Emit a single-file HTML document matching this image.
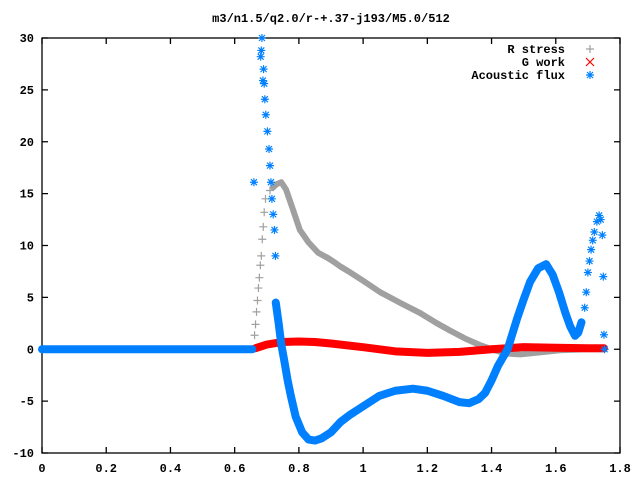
<!DOCTYPE html>
<html><head><meta charset="utf-8"><style>
body{margin:0;background:#fff}
svg text{font-family:"Liberation Mono",monospace;font-weight:bold;font-size:12px;fill:#000}
</style></head><body>
<svg width="640" height="480" viewBox="0 0 640 480" id="c">
<rect width="640" height="480" fill="#fff"/>
<text x="331" y="22" text-anchor="middle">m3/n1.5/q2.0/r-+.37-j193/M5.0/512</text>
<g id="axes"></g>
<g id="plot"></g>
<g id="legend"></g>
</svg>
<script>
const xTicks=[0,0.2,0.4,0.6,0.8,1,1.2,1.4,1.6,1.8];
const xTickLabels=["0","0.2","0.4","0.6","0.8","1","1.2","1.4","1.6","1.8"];
const yTicks=[-10,-5,0,5,10,15,20,25,30];
const yTickLabels=["-10","-5","0","5","10","15","20","25","30"];
const rBaseX=[0,0.66];
const rBaseY=[0,0];
const rRiseX=[0.662,0.665,0.668,0.671,0.674,0.677,0.68,0.683,0.686,0.689,0.692,0.696,0.71];
const rRiseY=[1.35,2.4,3.6,4.7,5.9,6.9,8.1,9.0,10.6,11.8,13.2,14.5,15.3];
const rStressX=[0.72,0.73,0.745,0.76,0.78,0.803,0.83,0.86,0.89,0.91,0.928,0.96,1.0,1.053,1.12,1.177,1.23,1.271,1.32,1.364,1.4,1.442,1.489,1.55,1.613,1.7,1.75];
const rStressY=[15.6,15.9,16.1,15.4,13.6,11.5,10.3,9.3,8.8,8.4,8.0,7.4,6.6,5.5,4.4,3.5,2.5,1.8,1.0,0.4,0.0,-0.4,-0.5,-0.3,-0.1,0,0];
const gWorkX=[0.665,0.7,0.75,0.8,0.85,0.9,1.0,1.1,1.2,1.3,1.4,1.5,1.6,1.7,1.75];
const gWorkY=[0.1,0.45,0.7,0.75,0.7,0.55,0.2,-0.2,-0.35,-0.25,0,0.2,0.15,0.1,0.1];
const fluxBaseX=[0,0.655];
const fluxBaseY=[0,0];
const fluxCurveX=[0.728,0.737,0.745,0.755,0.765,0.775,0.79,0.81,0.83,0.85,0.87,0.9,0.93,0.96,1.0,1.05,1.1,1.155,1.2,1.25,1.3,1.33,1.36,1.38,1.4,1.42,1.45,1.48,1.5,1.52,1.545,1.57,1.59,1.61,1.63,1.645,1.66,1.67,1.68];
const fluxCurveY=[4.5,2.5,0.5,-1.2,-3,-4.5,-6.5,-8,-8.7,-8.8,-8.6,-8,-7,-6.3,-5.5,-4.5,-4,-3.8,-4,-4.5,-5.1,-5.2,-4.8,-4.2,-3,-1.6,0,3,4.8,6.5,7.8,8.2,7.2,5.5,3.5,2.2,1.3,1.6,2.6];
const fluxSpikeX=[0.66,0.685,0.683,0.681,0.69,0.688,0.692,0.694,0.697,0.702,0.707,0.71,0.713,0.716,0.72,0.724,0.727,1.69,1.695,1.70,1.705,1.71,1.715,1.72,1.728,1.735,1.74,1.745,1.748,1.75,1.752,1.752];
const fluxSpikeY=[16.1,30,28.8,28.2,27,25.9,25.6,24.1,22.6,21,19.3,17.7,16.1,14.5,13,11.5,9.0,4.0,5.5,7.4,8.5,9.6,10.5,11.3,12.3,12.9,12.5,11,7,1.4,0];
const L=42,R=620,T=38,B=453,xMin=0,xMax=1.8,yMin=-10,yMax=30;
const sx=v=>L+(v-xMin)/(xMax-xMin)*(R-L);
const sy=v=>B-(v-yMin)/(yMax-yMin)*(B-T);
const NS="http://www.w3.org/2000/svg";
function mk(tag,at,parent){const e=document.createElementNS(NS,tag);for(const k in at)e.setAttribute(k,at[k]);parent.appendChild(e);return e;}
const axes=document.getElementById('axes'),plot=document.getElementById('plot'),leg=document.getElementById('legend');
let f=mk('rect',{x:L,y:T,width:R-L,height:B-T,fill:'none',stroke:'#000','stroke-width':1.3},axes);


xTicks.forEach((v,i)=>{const x=sx(v);
 mk('path',{d:`M${x},${B}v-6M${x},${T}v6`,stroke:'#000','stroke-width':1.3},axes);
 const t=mk('text',{x:x,y:B+19,'text-anchor':'middle'},axes);t.textContent=xTickLabels[i];
 
 });
yTicks.forEach((v,i)=>{const y=sy(v);
 mk('path',{d:`M${L},${y}h6M${R},${y}h-6`,stroke:'#000','stroke-width':1.3},axes);
 const t=mk('text',{x:34,y:y+4,'text-anchor':'end'},axes);t.textContent=yTickLabels[i];
 
 });
function plus(x,y,c,g){mk('path',{d:`M${x-4},${y}h8M${x},${y-4}v8`,stroke:c,'stroke-width':1.2},g);}
function cross(x,y,c,g){mk('path',{d:`M${x-4},${y-4}l8,8M${x-4},${y+4}l8,-8`,stroke:c,'stroke-width':1.2},g);}
function star(x,y,c,g){mk('path',{d:`M${x-4},${y}h8M${x},${y-4}v8M${x-3},${y-3}l6,6M${x-3},${y+3}l6,-6`,stroke:c,'stroke-width':1.2},g);}
function line(X,Y,c,w,g){mk('polyline',{points:X.map((v,i)=>sx(v)+','+sy(Y[i])).join(' '),fill:'none',stroke:c,'stroke-width':w,'stroke-linejoin':'round','stroke-linecap':'round'},g);}
// R stress
const gR=mk('g',{},plot);


line(rBaseX,rBaseY,'#a0a0a0',6,gR);
line(rStressX,rStressY,'#a0a0a0',6,gR);
rRiseX.forEach((v,i)=>plus(sx(v),sy(rRiseY[i]),'#a0a0a0',gR));
// G work
const gG=mk('g',{},plot);


line(gWorkX,gWorkY,'#ff0000',8,gG);
// Flux
const gF=mk('g',{},plot);


line(fluxBaseX,fluxBaseY,'#0080ff',8,gF);
line(fluxCurveX,fluxCurveY,'#0080ff',8,gF);
fluxSpikeX.forEach((v,i)=>star(sx(v),sy(fluxSpikeY[i]),'#0080ff',gF));
// legend
const items=[["R stress",'#a0a0a0',plus],["G work",'#ff0000',cross],["Acoustic flux",'#0080ff',star]];
items.forEach((it,i)=>{const y=49+i*13;const g=mk('g',{},leg);
 
 
 const t=mk('text',{x:565,y:y+4,'text-anchor':'end'},g);t.textContent=it[0];
 it[2](590,y,it[1],g);});
</script>
</body></html>
